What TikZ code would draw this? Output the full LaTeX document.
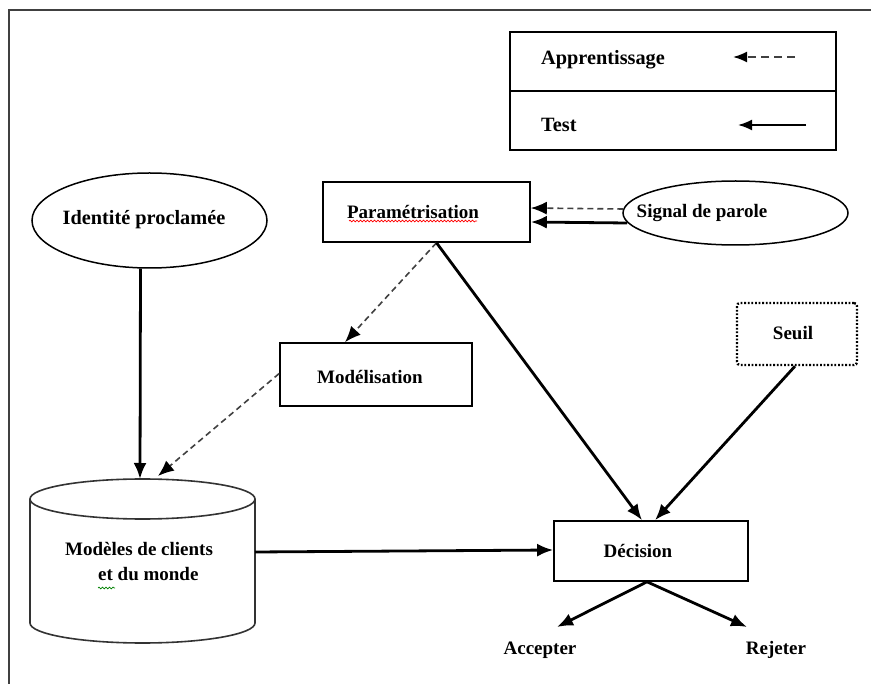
\documentclass[tikz,border=0pt]{standalone}
\usepackage{fontspec}
\setmainfont{Liberation Serif}
\usetikzlibrary{arrows.meta,shapes.geometric,decorations.pathmorphing}

\begin{document}
\begin{tikzpicture}[x=1pt,y=-1pt,line join=miter,
  txt/.style={font=\fontsize{19}{25}\selectfont\bfseries,inner sep=0pt},
  bigtxt/.style={font=\fontsize{20.3}{25}\selectfont\bfseries,inner sep=0pt},
  box/.style={draw,line width=1.6pt,inner sep=0pt},
  oval/.style={draw,ellipse,line width=1.5pt,inner sep=0pt},
  solidarrow/.style={line width=2.8pt,-{Latex[length=16pt,width=13pt]}},
  dasharrow/.style={line width=1.6pt,dash pattern=on 6pt off 4pt,draw=black!75,
    -{Latex[length=16pt,width=13pt,black]}},
  squiggle/.style={decorate,decoration={snake,segment length=3.5pt,amplitude=0.9pt},line width=0.7pt}
]
\useasboundingbox (0,0) rectangle (871,684);

% page frame
\draw[line width=1.7pt,black!75] (9,684) -- (9,10) -- (871,10);

% legend
\node[box,minimum width=326pt,minimum height=118pt] (legend) at (673,91) {};
\draw[line width=2.8pt] (legend.west |- 0,91) -- (legend.east |- 0,91);
\node[bigtxt,anchor=west] (lapp) at (541,60) {Apprentissage};
\node[bigtxt,anchor=west] (ltest) at (541,125) {Test};
\coordinate (lda) at (795,57);
\coordinate (ldb) at (733,57);
\coordinate (lsa) at (806,125);
\coordinate (lsb) at (738,125);
\draw[line width=1.9pt,dash pattern=on 8pt off 5pt,draw=black!75,-{Latex[length=14pt,width=11pt,black]}] (lda) -- (ldb);
\draw[line width=1.9pt,-{Latex[length=14pt,width=11pt]}] (lsa) -- (lsb);

% shapes
\node[box,minimum width=207pt,minimum height=60pt] (param) at (426.5,212) {};
\node[txt] (param-t) at (413,212) {Paramétrisation};
\draw[squiggle,red] (349,221) -- (477,221);

\node[oval,minimum width=225pt,minimum height=64pt] (signal) at (735.5,213) {};
\node[txt] (signal-t) at (702,213) {Signal de parole};

\node[oval,minimum width=235pt,minimum height=95pt] (ident) at (149.5,220.5) {};
\node[bigtxt] (ident-t) at (144,220) {Identité proclamée};

\node[box,minimum width=192pt,minimum height=63pt] (model) at (376,374.5) {};
\node[txt] (model-t) at (370,377) {Modélisation};

\node[draw,line width=2.4pt,dash pattern=on 1.8pt off 1.8pt,rounded corners=3pt,
  minimum width=120pt,minimum height=62pt,inner sep=0pt] (seuil) at (797,334) {};
\node[txt] (seuil-t) at (793,333) {Seuil};

\node[box,minimum width=194pt,minimum height=60pt] (decision) at (651,551) {};
\node[txt] (decision-t) at (638,551) {Décision};

% database cylinder
\draw[line width=1.6pt,draw=black!80] (30,499) -- (30,623)
  arc[start angle=180,end angle=360,x radius=112.5pt,y radius=20pt] -- (255,499);
\draw[line width=1.6pt,draw=black!80] (142.5,499) ellipse[x radius=112.5pt,y radius=20pt];
\coordinate (cyl-top-a) at (140,479);
\coordinate (cyl-top-b) at (158,476);
\coordinate (cyl-right) at (255,552);
\node[txt,align=left,anchor=north west] (cyl-t) at (65,542) {Modèles de clients\\\hspace*{33pt}et du monde};
\draw[squiggle,green!50!black] (98,588) -- (115,588);

% outcomes
\node[txt] (accept) at (540,650) {Accepter};
\node[txt] (reject) at (776,650) {Rejeter};
\coordinate (acc-tip) at (557,627);
\coordinate (rej-tip) at (747,627);

% connectors
\coordinate (param-out) at ([xshift=10pt]param.south);
\draw[dasharrow] ([yshift=4pt,xshift=1pt]signal.west) -- ([yshift=4pt]param.east);
\draw[solidarrow] ([yshift=-10pt,xshift=5pt]signal.west) -- ([yshift=-10pt]param.east);
\draw[solidarrow] ([xshift=-9pt]ident.south) -- (cyl-top-a);
\draw[dasharrow] (param-out) -- ([xshift=-31pt]model.north);
\draw[dasharrow] ([yshift=1pt]model.west) -- (cyl-top-b);
\draw[solidarrow] (param-out) -- ([xshift=-9pt]decision.north);
\draw[solidarrow] ([xshift=-2pt]seuil.south) -- ([xshift=4pt]decision.north);
\draw[solidarrow] (cyl-right) -- ([yshift=1pt]decision.west);
\draw[solidarrow] ([xshift=-4pt]decision.south) -- (acc-tip);
\draw[solidarrow] ([xshift=-4pt]decision.south) -- (rej-tip);
\end{tikzpicture}
\end{document}
